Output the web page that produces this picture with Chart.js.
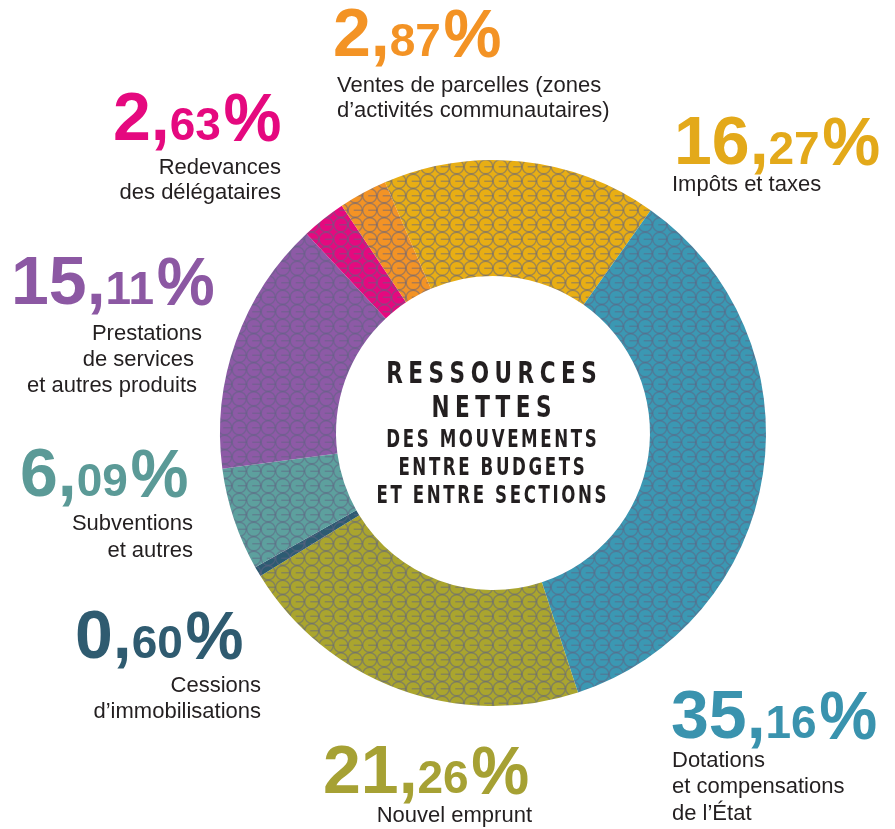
<!DOCTYPE html>
<html><head><meta charset="utf-8">
<script src="https://cdn.jsdelivr.net/npm/chart.js@4.4.1/dist/chart.umd.min.js"></script>
<style>html,body{margin:0;padding:0;background:#fff;}#wrap{position:relative;width:895px;height:829px;}</style>
</head><body><div id="wrap"><canvas id="c" width="895" height="829"></canvas></div>
<script>
// ---------- DATA ----------
const categories = ["Impôts et taxes", "Dotations et compensations de l’État", "Nouvel emprunt", "Cessions d’immobilisations", "Subventions et autres", "Prestations de services et autres produits", "Redevances des délégataires", "Ventes de parcelles (zones d’activités communautaires)"];
const shares = [16.27, 35.16, 21.26, 0.60, 6.09, 15.11, 2.63, 2.87];
const labelLines = [
  ["Impôts et taxes"],
  ["Dotations", "et compensations", "de l’État"],
  ["Nouvel emprunt"],
  ["Cessions", "d’immobilisations"],
  ["Subventions", "et autres"],
  ["Prestations", "de services", "et autres produits"],
  ["Redevances", "des délégataires"],
  ["Ventes de parcelles (zones", "d’activités communautaires)"]
];
const centerTitle = ["RESSOURCES", "NETTES"];
const centerSubtitle = ["DES MOUVEMENTS", "ENTRE BUDGETS", "ET ENTRE SECTIONS"];

// ---------- STYLE / LAYOUT ----------
const sliceColors = ["#E8AE14", "#3B98B3", "#AAA52E", "#2D5B72", "#5DA09E", "#8D5AA6", "#E5097F", "#F39325"];
const numberColors = ["#E3A91A", "#3A93AE", "#A6A134", "#2F5B70", "#5B9A97", "#8C58A3", "#E5097F", "#F39325"];
const labelLayout = [
  {nx: 674, ny: 164, align: 'left',  tx: [672], ty: [191]},
  {nx: 671, ny: 738, align: 'left',  tx: [672, 672, 672], ty: [767, 793, 820]},
  {nx: 323, ny: 793, align: 'right', tx: [532], ty: [822]},
  {nx: 75,  ny: 658, align: 'right', tx: [261, 261], ty: [692, 718]},
  {nx: 20,  ny: 496, align: 'right', tx: [193, 193], ty: [530, 557]},
  {nx: 11,  ny: 304, align: 'right', tx: [202, 194, 197], ty: [340, 366, 392]},
  {nx: 113, ny: 140, align: 'right', tx: [281, 281], ty: [174, 199]},
  {nx: 333, ny: 56,  align: 'left',  tx: [337, 337], ty: [92, 117]}
];
const SANS = '"Liberation Sans", Arial, sans-serif';
const COND = '"Liberation Sans Narrow", "DejaVu Sans Condensed", "Roboto Condensed", sans-serif';

function makePattern(color) {
  const S = 29, step = 14.5, r = 7.0;
  const t = document.createElement('canvas');
  t.width = S; t.height = S;
  const g = t.getContext('2d');
  g.fillStyle = color; g.fillRect(0, 0, S, S);
  g.strokeStyle = 'rgba(95,100,130,0.52)';
  g.lineWidth = 1.35;
  for (let i = -1; i <= 2; i++) for (let j = -1; j <= 2; j++) {
    const cx = 7.25 + i * step, cy = 7.25 + j * step;
    g.beginPath(); g.arc(cx, cy, r, 0, Math.PI * 2); g.stroke();
    g.beginPath(); g.moveTo(cx - 1.5, cy); g.lineTo(cx + r, cy); g.stroke();
  }
  return g.createPattern(t, 'repeat');
}

function drawSpaced(ctx, text, cx, y, spacing, sx) {
  let total = 0;
  const ws = [];
  for (const ch of text) { const w = ctx.measureText(ch).width * sx; ws.push(w); total += w; }
  total += spacing * (ws.length - 1);
  let x = cx - total / 2;
  let k = 0;
  ctx.textAlign = 'left';
  for (const ch of text) {
    ctx.save();
    ctx.translate(x, y);
    ctx.scale(sx, 1);
    ctx.fillText(ch, 0, 0);
    ctx.restore();
    x += ws[k++] + spacing;
  }
}

const labelPlugin = {
  id: 'labels',
  afterDraw(chart) {
    const ctx = chart.ctx;
    ctx.save();
    ctx.textBaseline = 'alphabetic';
    shares.forEach((v, i) => {
      const L = labelLayout[i];
      const parts = v.toFixed(2).split('.');
      ctx.fillStyle = numberColors[i];
      ctx.strokeStyle = numberColors[i];
      ctx.textAlign = 'left';
      let x = L.nx;
      ctx.font = 'bold 68px ' + SANS;
      ctx.fillText(parts[0] + ',', x, L.ny);
      x += ctx.measureText(parts[0] + ',').width;
      ctx.font = 'bold 46px ' + SANS;
      ctx.fillText(parts[1], x, L.ny);
      x += ctx.measureText(parts[1]).width + 3;
      ctx.font = '64px ' + SANS;
      ctx.lineWidth = 2.2;
      ctx.fillText('%', x, L.ny);
      ctx.strokeText('%', x, L.ny);
      ctx.fillStyle = '#231F20';
      ctx.font = '22px ' + SANS;
      ctx.textAlign = L.align;
      labelLines[i].forEach((ln, k) => ctx.fillText(ln, L.tx[k], L.ty[k]));
    });
    // center text
    ctx.fillStyle = '#231F20';
    ctx.font = 'bold 30px ' + COND;
    drawSpaced(ctx, centerTitle[0], 491.5, 383, 5.5, 0.8);
    drawSpaced(ctx, centerTitle[1], 491.5, 417, 5.5, 0.8);
    ctx.font = 'bold 25px ' + COND;
    drawSpaced(ctx, centerSubtitle[0], 491.5, 447, 2.6, 0.74);
    drawSpaced(ctx, centerSubtitle[1], 491.5, 475, 2.6, 0.74);
    drawSpaced(ctx, centerSubtitle[2], 491.5, 503, 2.6, 0.74);
    ctx.restore();
  }
};

new Chart(document.getElementById('c').getContext('2d'), {
  type: 'doughnut',
  data: {
    labels: categories,
    datasets: [{
      data: shares,
      backgroundColor: sliceColors.map(makePattern),
      borderWidth: 0,
      hoverOffset: 0
    }]
  },
  options: {
    responsive: false,
    animation: false,
    events: [],
    rotation: -23.3,
    cutout: '57.5%',
    layout: {padding: {left: 220, right: 129, top: 160, bottom: 123}},
    plugins: {legend: {display: false}, tooltip: {enabled: false}}
  },
  plugins: [labelPlugin]
});
</script>
</body></html>
